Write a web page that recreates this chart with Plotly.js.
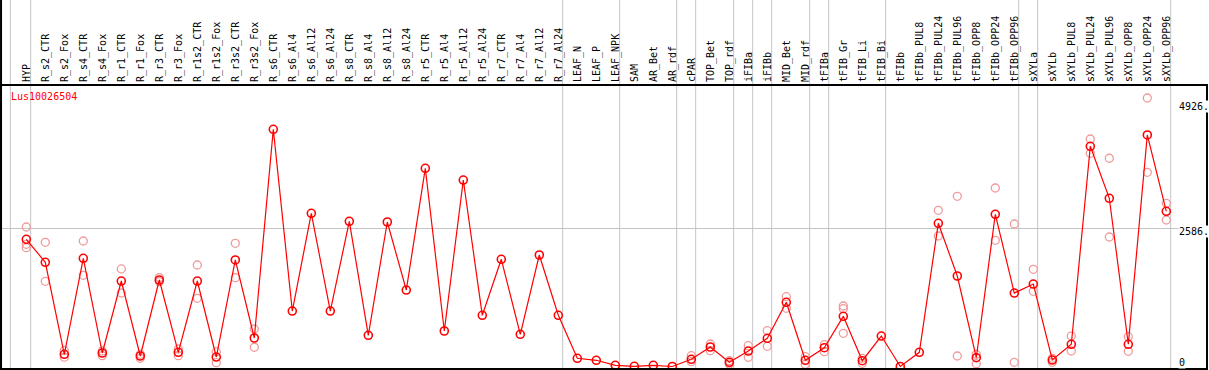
<!DOCTYPE html>
<html>
<head>
<meta charset="utf-8">
<script src="https://cdn.plot.ly/plotly-3.0.1.min.js"></script>
<style>html,body{margin:0;padding:0;background:#fff;}#chart{width:1209px;height:370px;}</style>
</head>
<body>
<div id="chart"></div>
<script>
const geneName = 'Lus10026504';
const categories = ['HYP','R_s2_CTR','R_s2_Fox','R_s4_CTR','R_s4_Fox','R_r1_CTR','R_r1_Fox','R_r3_CTR','R_r3_Fox','R_r1s2_CTR','R_r1s2_Fox','R_r3s2_CTR','R_r3s2_Fox','R_s6_CTR','R_s6_Al4','R_s6_Al12','R_s6_Al24','R_s8_CTR','R_s8_Al4','R_s8_Al12','R_s8_Al24','R_r5_CTR','R_r5_Al4','R_r5_Al12','R_r5_Al24','R_r7_CTR','R_r7_Al4','R_r7_Al12','R_r7_Al24','LEAF_N','LEAF_P','LEAF_NPK','SAM','AR_Bet','AR_rdf','cPAR','TOP_Bet','TOP_rdf','iFIBa','iFIBb','MID_Bet','MID_rdf','tFIBa','tFIB_Gr','tFIB_Li','tFIB_Bi','tFIBb','tFIBb_PUL8','tFIBb_PUL24','tFIBb_PUL96','tFIBb_OPP8','tFIBb_OPP24','tFIBb_OPP96','sXYLa','sXYLb','sXYLb_PUL8','sXYLb_PUL24','sXYLb_PUL96','sXYLb_OPP8','sXYLb_OPP24','sXYLb_OPP96'];
const meanVals = [2375,1946,228,2020,252,1596,196,1615,265,1596,177,1989,532,4429,1036,2861,1036,2711,583,2698,1428,3701,663,3482,956,2002,601,2082,956,153,116,22,4,22,0,134,364,78,289,527,1199,116,351,937,108,569,0,265,2674,1690,164,2842,1372,1540,121,415,4112,3141,415,4323,2898];
const rep1 = [2605,2319,300,2343,289,1821,228,1660,327,1895,276,2300,700,null,null,null,null,null,null,null,null,null,null,null,null,null,null,null,null,null,null,null,null,null,null,202,420,108,388,668,1303,183,407,1130,153,null,null,null,2917,3178,228,3333,2661,1815,153,569,4248,3888,556,5013,3047];
const rep2 = [2282,1591,175,1703,202,1372,153,1585,202,1273,71,1658,359,null,null,null,null,null,null,null,null,null,null,null,null,null,null,null,null,null,null,null,null,null,null,90,295,47,172,377,1087,41,276,620,60,null,null,null,2437,196,52,2356,78,1404,78,289,3981,2418,284,3626,2735];
const rep3 = [2218,null,null,null,null,null,null,null,null,null,null,null,null,null,null,null,null,null,null,null,null,null,null,null,null,null,null,null,null,null,null,null,null,null,null,null,null,null,null,null,null,null,null,1079,null,null,null,null,null,null,null,null,null,null,null,null,null,null,null,null,null];
const groupSizes = [1,28,3,3,1,2,1,1,2,1,3,7,1,7];
const yTickVals = [0, 2586, 4926];
const yTickText = ['0', '2586.', '4926.'];
const gridVals = [2586];

const idx = categories.map((c, i) => i);
const FONT = 'DejaVu Sans Mono, Liberation Mono, monospace';

const repTraces = [rep1, rep2, rep3].map(r => ({
  x: idx, y: r, type: 'scatter', mode: 'markers', hoverinfo: 'skip',
  marker: {symbol: 'circle-open', size: 8, color: '#f09a9a', line: {width: 1.3, color: '#f09a9a'}},
  showlegend: false
}));
const meanTrace = {
  x: idx, y: meanVals, type: 'scatter', mode: 'lines+markers',
  line: {color: '#ff0000', width: 1.2},
  marker: {symbol: 'circle-open', size: 8, color: '#ff0000', line: {width: 1.6, color: '#ff0000'}},
  showlegend: false
};

// group separator lines
const shapes = [];
let pos = -1;
const bounds = [-0.84];
groupSizes.forEach(s => { pos += s; bounds.push(pos + 0.23); });
bounds.forEach(b => shapes.push({type: 'line', xref: 'x', yref: 'paper', x0: b, x1: b, y0: 0, y1: 1.35, layer: 'below', line: {color: '#c4c4c4', width: 1}}));
shapes.push({type: 'line', xref: 'paper', yref: 'paper', x0: -0.0008, x1: -0.0008, y0: -0.02, y1: 1.35, line: {color: '#000', width: 2}});

const annotations = yTickVals.map((v, i) => ({
  xref: 'paper', yref: 'y', x: 0.9767, y: v, xanchor: 'left', yanchor: v === 0 ? 'bottom' : 'top',
  yshift: v === 0 ? -2 : 3, text: yTickText[i], showarrow: false, bgcolor: '#ffffff', borderpad: 0,
  font: {family: FONT, size: 10, color: '#000'}
}));
annotations.push({xref: 'paper', yref: 'paper', x: 0.006, y: 0.9628, xanchor: 'left', yanchor: 'middle', text: geneName, showarrow: false, font: {family: FONT, size: 10, color: '#ff0000'}});

const layout = {
  width: 1209, height: 370,
  margin: {l: 2, r: 3, t: 86, b: 2, pad: 0},
  paper_bgcolor: '#fff', plot_bgcolor: '#fff',
  xaxis: {
    range: [-1.279, 62.089], side: 'top', tickmode: 'array', tickvals: idx, ticktext: categories,
    tickangle: -90, tickfont: {family: FONT, size: 10, color: '#000'}, ticks: '', showgrid: false, zeroline: false,
    showline: true, mirror: true, linecolor: '#000', linewidth: 2, fixedrange: true
  },
  yaxis: {
    range: [-28.0, 5237.5], tickmode: 'array', tickvals: gridVals, showticklabels: false, ticks: '',
    showgrid: true, gridcolor: '#c4c4c4', gridwidth: 1, zeroline: false,
    showline: true, mirror: true, linecolor: '#000', linewidth: 2, fixedrange: true
  },
  shapes: shapes,
  annotations: annotations,
  showlegend: false,
  font: {family: FONT, size: 10}
};

Plotly.newPlot('chart', [...repTraces, meanTrace], layout, {staticPlot: true, displayModeBar: false});
</script>
</body>
</html>
